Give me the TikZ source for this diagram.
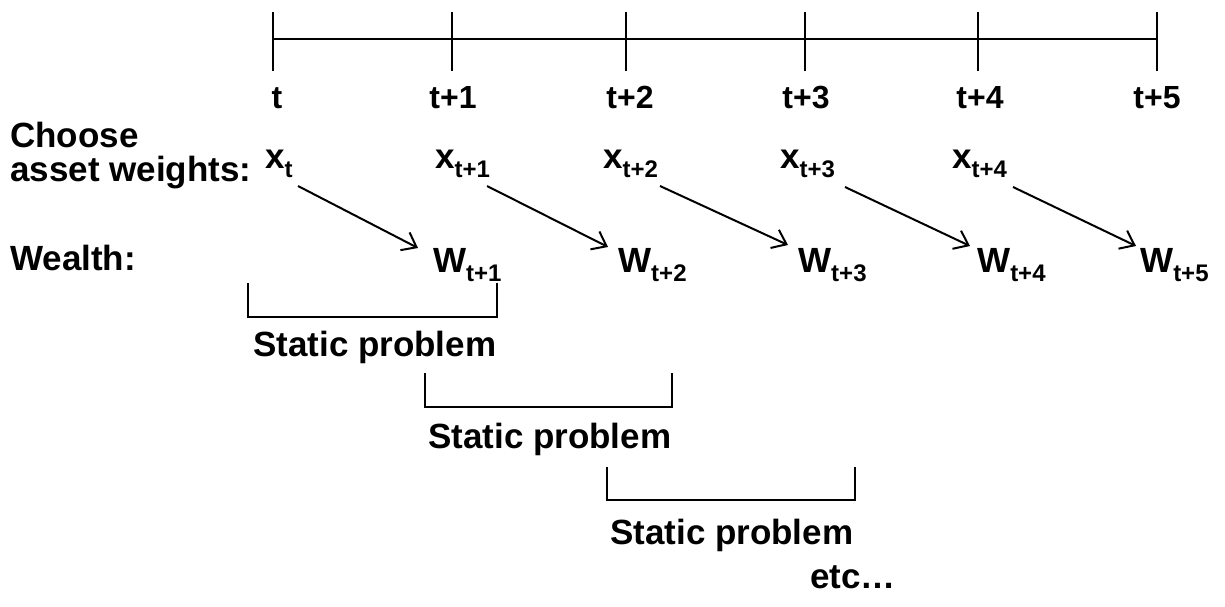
\documentclass[tikz,border=0pt]{standalone}
\usepackage{fontspec}
\setmainfont{Liberation Sans}
\usetikzlibrary{arrows.meta}
\newcommand\mainsz{\fontsize{35}{40}\selectfont\bfseries}
\newcommand\subsz{\fontsize{24}{26}\selectfont\bfseries}
\newcommand\tsz{\fontsize{32}{36}\selectfont\bfseries}
\newcommand\sbs[1]{\raisebox{-9pt}{\subsz #1}}
\begin{document}
\begin{tikzpicture}[x=1pt,y=-1pt,
  txt/.style={anchor=base west,inner sep=0pt,font=\mainsz},
  tlab/.style={anchor=base,inner sep=0pt,font=\tsz},
  axisline/.style={line width=2.5pt},
  tickline/.style={line width=2.5pt},
  brk/.style={line width=2.2pt},
  arr/.style={line width=2pt,-{Straight Barb[length=13pt,width=20pt,line width=2pt]}}]
\useasboundingbox (0,0) rectangle (1225,606);
% time axis
\coordinate (a0) at (273,39);
\coordinate (a5) at (1157,39);
\draw[axisline] (a0) -- (a5);
\foreach \x in {273,452,626,805,978,1157}{
  \draw[tickline] (\x,12) -- (\x,71);
}
\node[tlab] (l0) at (277,108) {t};
\node[tlab] (l1) at (453,108) {t+1};
\node[tlab] (l2) at (630,108) {t+2};
\node[tlab] (l3) at (806,108) {t+3};
\node[tlab] (l4) at (980,108) {t+4};
\node[tlab] (l5) at (1157,108) {t+5};
% row labels
\node[txt] (choose) at (10,147) {Choose};
\node[txt] (asset) at (10,181) {asset weights:};
\node[txt] (wealth) at (10,270) {Wealth:};
% weights
\node[txt] (x0) at (265,168) {x\sbs{t}};
\node[txt] (x1) at (435,168) {x\sbs{t+1}};
\node[txt] (x2) at (603,168) {x\sbs{t+2}};
\node[txt] (x3) at (780,168) {x\sbs{t+3}};
\node[txt] (x4) at (952,168) {x\sbs{t+4}};
% wealth
\node[txt] (w1) at (433,272) {W\sbs{t+1}};
\node[txt] (w2) at (618,272) {W\sbs{t+2}};
\node[txt] (w3) at (798,272) {W\sbs{t+3}};
\node[txt] (w4) at (977,272) {W\sbs{t+4}};
\node[txt] (w5) at (1140,272) {W\sbs{t+5}};
% arrow ends
\coordinate (s0) at (298,186); \coordinate (e1) at (418,248);
\coordinate (s1) at (487,186); \coordinate (e2) at (608,247);
\coordinate (s2) at (660,186); \coordinate (e3) at (788,245);
\coordinate (s3) at (845,187); \coordinate (e4) at (970,246);
\coordinate (s4) at (1013,187); \coordinate (e5) at (1136,246);
\draw[arr] (s0) -- (e1);
\draw[arr] (s1) -- (e2);
\draw[arr] (s2) -- (e3);
\draw[arr] (s3) -- (e4);
\draw[arr] (s4) -- (e5);
% static problems
\draw[brk] (248,283) -- (248,317) -- (497,317) -- (497,283);
\node[txt] (sp1) at (253,356) {Static problem};
\draw[brk] (425,373) -- (425,407) -- (672,407) -- (672,373);
\node[txt] (sp2) at (428,448) {Static problem};
\draw[brk] (607,467) -- (607,500) -- (855,500) -- (855,467);
\node[txt] (sp3) at (610,544) {Static problem};
\node[txt] (etc) at (810,588) {etc…};
\end{tikzpicture}
\end{document}
